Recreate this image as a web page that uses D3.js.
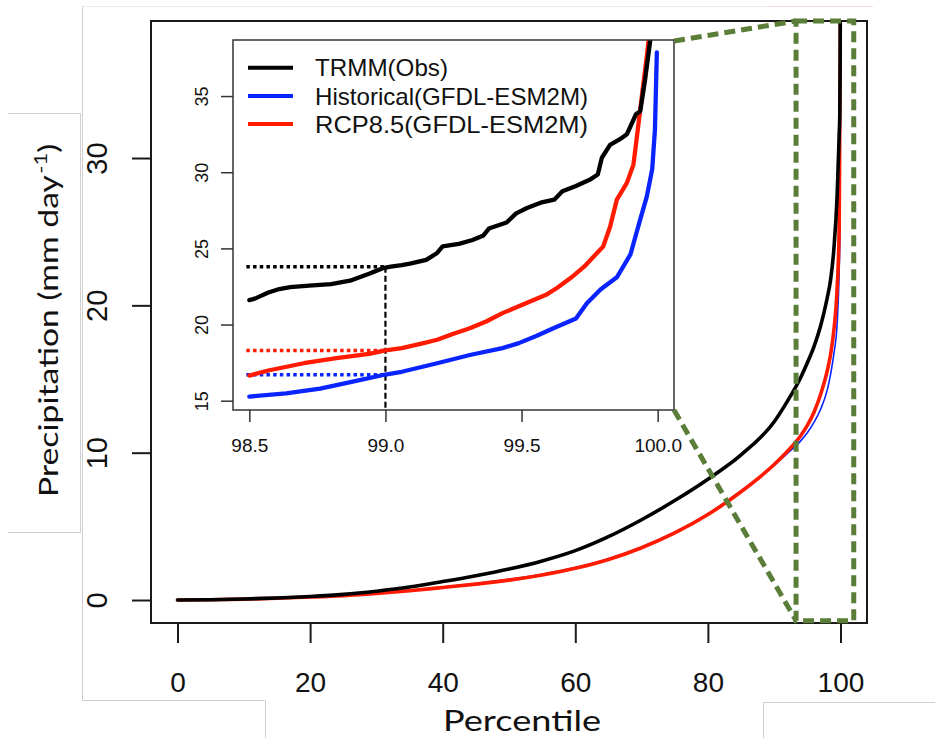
<!DOCTYPE html>
<html>
<head>
<meta charset="utf-8">
<script src="https://cdn.jsdelivr.net/npm/d3@7"></script>
<style>
  html, body { margin: 0; padding: 0; background: #fff; }
  svg { display: block; }
</style>
</head>
<body>
<svg id="chart" width="935" height="738"></svg>
<script>
// ---------------- DATA ----------------
// Main panel: percentile (x) vs precipitation (mm/day)
const mainPercentiles = [0, 5, 10, 15, 20, 25, 30, 35, 40, 45, 50, 55, 60, 65, 70, 75, 80, 85, 90, 92, 94, 95, 96, 97, 98, 98.5, 99, 99.5, 99.8, 99.9, 99.95, 100];
const trmmMain       = [0, 0.02, 0.07, 0.14, 0.24, 0.38, 0.6, 0.88, 1.25, 1.65, 2.1, 2.65, 3.35, 4.3, 5.45, 6.75, 8.2, 9.85, 12.1, 13.5, 15.1, 16.1, 17.2, 18.6, 20.5, 21.7, 23.8, 27.5, 31.5, 33.0, 36.5, 45];
const historicalMain = [0, 0.03, 0.07, 0.14, 0.22, 0.33, 0.48, 0.66, 0.88, 1.12, 1.4, 1.75, 2.2, 2.8, 3.6, 4.6, 5.85, 7.4, 9.15, 9.95, 10.8, 11.35, 12.05, 12.95, 14.25, 15.3, 16.7, 18.8, 22.3, 24.6, 28.4, 45];
const rcp85Main      = [0, 0.02, 0.06, 0.12, 0.2, 0.3, 0.45, 0.63, 0.85, 1.08, 1.35, 1.7, 2.15, 2.75, 3.55, 4.55, 5.8, 7.35, 9.2, 10.1, 11.15, 11.85, 12.75, 13.95, 15.55, 16.65, 18.3, 21.2, 25.1, 33.0, 37.0, 45];

// Inset panel (98.5 - 100 percentile)
const trmmInsetP = [98.50, 98.52, 98.57, 98.61, 98.65, 98.72, 98.80, 98.87, 98.94, 98.99, 99.02, 99.06, 99.09, 99.15, 99.19, 99.21, 99.27, 99.32, 99.36, 99.38, 99.445, 99.48, 99.52, 99.57, 99.62, 99.65, 99.70, 99.75, 99.78, 99.795, 99.825, 99.86, 99.887, 99.90, 99.92, 99.936, 99.954, 99.973, 99.98];
const trmmInsetV = [21.6, 21.7, 22.1, 22.33, 22.45, 22.55, 22.66, 22.88, 23.33, 23.7, 23.8, 23.9, 24.0, 24.25, 24.7, 25.13, 25.3, 25.55, 25.85, 26.3, 26.7, 27.3, 27.65, 28.0, 28.2, 28.75, 29.1, 29.5, 29.85, 30.95, 31.8, 32.15, 32.5, 33.0, 33.8, 34.0, 36.1, 38.7, 40.0];
const histInsetP = [98.50, 98.635, 98.76, 98.88, 99.00, 99.06, 99.19, 99.31, 99.43, 99.49, 99.556, 99.617, 99.70, 99.74, 99.79, 99.85, 99.90, 99.936, 99.96, 99.98, 99.99, 99.997];
const histInsetV = [15.27, 15.48, 15.8, 16.25, 16.72, 16.9, 17.46, 18.0, 18.45, 18.78, 19.26, 19.76, 20.4, 21.4, 22.3, 23.1, 24.6, 26.9, 28.4, 30.2, 32.8, 37.86];
const rcpInsetP  = [98.50, 98.574, 98.70, 98.82, 98.94, 99.00, 99.06, 99.14, 99.19, 99.25, 99.31, 99.37, 99.43, 99.49, 99.59, 99.63, 99.68, 99.73, 99.76, 99.80, 99.825, 99.85, 99.887, 99.911, 99.924, 99.942, 99.96, 99.967, 99.97];
const rcpInsetV  = [16.65, 17.0, 17.46, 17.8, 18.07, 18.3, 18.45, 18.78, 19.0, 19.4, 19.76, 20.2, 20.75, 21.2, 21.95, 22.4, 23.05, 23.8, 24.37, 25.13, 26.4, 28.2, 29.3, 30.5, 32.37, 35.0, 37.6, 38.7, 40.0];

// 99th percentile reference values (TRMM, RCP8.5, Historical)
const refPercentile = 99.0;
const refStart = 98.5;
const refValues = [23.8, 18.3, 16.7];

const seriesNames = ["TRMM(Obs)", "Historical(GFDL-ESM2M)", "RCP8.5(GFDL-ESM2M)"];
const seriesColors = ["#000000", "#0a24ff", "#ff1a00"];
const refColors = ["#000000", "#ff1a00", "#0a24ff"];

const mainXTicks = [0, 20, 40, 60, 80, 100];
const mainYTicks = [0, 10, 20, 30];
const insetXTicks = [98.5, 99.0, 99.5, 100.0];
const insetYTicks = [15, 20, 25, 30, 35];

// zoom annotation box in main data units
const zoomBoxP = [93.3, 102.0];
const zoomBoxV = [-1.4, 39.3];

// ---------------- CHART ----------------
const svg = d3.select("#chart");
const tickFont = "'Liberation Sans', Arial, Helvetica, sans-serif";
const titleFont = "Lato, 'Open Sans', sans-serif";

// faint background artefact lines (pasted-figure edges)
const faint = svg.append("g").attr("stroke", "#cfcfcf").attr("stroke-width", 1).attr("fill", "none");
faint.append("path").attr("d", "M82.5,6 V700.5 H265.5 V738");
faint.append("path").attr("d", "M82.5,6.5 H770").attr("stroke", "#ececec");
faint.append("path").attr("d", "M770,6.5 H873").attr("stroke", "#ffd9d9");
faint.append("path").attr("d", "M8,113.5 H80.5 V532.5 H8");
faint.append("path").attr("d", "M763.5,738 V702.5 H935");

// ---- main panel ----
const mx = d3.scaleLinear().domain([-4, 104]).range([151, 867]);
const my = d3.scaleLinear().domain([-1.56, 39.3]).range([623, 21]);

const defs = svg.append("defs");
defs.append("clipPath").attr("id", "mainClip").append("rect")
  .attr("x", mx.range()[0]).attr("y", my.range()[1])
  .attr("width", mx.range()[1] - mx.range()[0]).attr("height", my.range()[0] - my.range()[1]);

const mainLine = d3.line().x(d => mx(d[0])).y(d => my(d[1])).curve(d3.curveMonotoneX);
const mainG = svg.append("g").attr("clip-path", "url(#mainClip)");
const mainSeries = [
  { vals: historicalMain, color: seriesColors[1], w: 1.6 },
  { vals: rcp85Main, color: seriesColors[2], w: 3.6 },
  { vals: trmmMain, color: seriesColors[0], w: 3.6 }
];
mainSeries.forEach(s => {
  mainG.append("path")
    .datum(mainPercentiles.map((p, i) => [p, s.vals[i]]))
    .attr("fill", "none").attr("stroke", s.color).attr("stroke-width", s.w)
    .attr("stroke-linejoin", "round").attr("stroke-linecap", "round")
    .attr("d", mainLine);
});

// main box
svg.append("rect")
  .attr("x", mx.range()[0]).attr("y", my.range()[1])
  .attr("width", mx.range()[1] - mx.range()[0]).attr("height", my.range()[0] - my.range()[1])
  .attr("fill", "none").attr("stroke", "#1a1a1a").attr("stroke-width", 2);

// main x axis
const mxAxis = svg.append("g").attr("transform", `translate(0,${my.range()[0]})`)
  .call(d3.axisBottom(mx).tickValues(mainXTicks).tickSize(20).tickPadding(30).tickFormat(d3.format("d")));
mxAxis.select(".domain").remove();
mxAxis.selectAll("line").attr("stroke", "#1a1a1a").attr("stroke-width", 2);
mxAxis.selectAll("text").attr("font-family", tickFont).attr("font-size", 28).attr("fill", "#111")
  .attr("dy", null).attr("y", 69);

// main y axis
const myAxis = svg.append("g").attr("transform", `translate(${mx.range()[0]},0)`)
  .call(d3.axisLeft(my).tickValues(mainYTicks).tickSize(19).tickFormat(d3.format("d")));
myAxis.select(".domain").remove();
myAxis.selectAll("line").attr("stroke", "#1a1a1a").attr("stroke-width", 2);
myAxis.selectAll("text").attr("font-family", tickFont).attr("font-size", 29).attr("fill", "#111")
  .attr("text-anchor", "middle").attr("x", null).attr("dy", null)
  .attr("transform", "translate(-44,0) rotate(-90)").attr("y", 0);

// titles
svg.append("text")
  .attr("x", 522).attr("y", 731).attr("text-anchor", "middle")
  .attr("font-family", titleFont).attr("font-size", 28).attr("fill", "#111")
  .attr("textLength", 158).attr("lengthAdjust", "spacingAndGlyphs")
  .text("Percentile");

// y title: stretched along reading direction to match the reference span
const yTitleG = svg.append("g");
const yTitle = yTitleG.append("text")
  .attr("text-anchor", "start")
  .attr("font-family", titleFont).attr("font-size", 26).attr("fill", "#111");
yTitle.append("tspan").text("Precipitation (mm day");
yTitle.append("tspan").attr("font-size", 17).attr("dy", -11).attr("dx", 1).text("-1");
yTitle.append("tspan").attr("dy", 11).text(")");
const yTitleLen = yTitle.node().getComputedTextLength();
const yTitleTarget = 352;
yTitleG.attr("transform", `translate(58,497) rotate(-90) scale(${yTitleTarget / yTitleLen},1)`);

// ---- inset panel ----
const ix = d3.scaleLinear().domain([98.44, 100.06]).range([233, 674]);
const iy = d3.scaleLinear().domain([14.39, 38.68]).range([410, 40]);

svg.append("rect")
  .attr("x", ix.range()[0]).attr("y", iy.range()[1])
  .attr("width", ix.range()[1] - ix.range()[0]).attr("height", iy.range()[0] - iy.range()[1])
  .attr("fill", "#fff").attr("stroke", "none");

defs.append("clipPath").attr("id", "insetClip").append("rect")
  .attr("x", ix.range()[0]).attr("y", iy.range()[1])
  .attr("width", ix.range()[1] - ix.range()[0]).attr("height", iy.range()[0] - iy.range()[1]);

const insetG = svg.append("g").attr("clip-path", "url(#insetClip)");

// reference lines
refValues.forEach((v, i) => {
  insetG.append("line")
    .attr("x1", ix(refStart) - 3).attr("x2", ix(refPercentile))
    .attr("y1", iy(v)).attr("y2", iy(v))
    .attr("stroke", refColors[i]).attr("stroke-width", 3.5)
    .attr("stroke-dasharray", "3.5,3.2");
});
insetG.append("line")
  .attr("x1", ix(refPercentile)).attr("x2", ix(refPercentile))
  .attr("y1", iy(refValues[0])).attr("y2", iy.range()[0])
  .attr("stroke", "#000").attr("stroke-width", 2.2)
  .attr("stroke-dasharray", "6,3");

const insetLine = d3.line().x(d => ix(d[0])).y(d => iy(d[1]));
const insetSeries = [
  { p: histInsetP, v: histInsetV, color: seriesColors[1] },
  { p: rcpInsetP, v: rcpInsetV, color: seriesColors[2] },
  { p: trmmInsetP, v: trmmInsetV, color: seriesColors[0] }
];
insetSeries.forEach(s => {
  insetG.append("path")
    .datum(s.p.map((p, i) => [p, s.v[i]]))
    .attr("fill", "none").attr("stroke", s.color).attr("stroke-width", 4.3)
    .attr("stroke-linejoin", "round").attr("stroke-linecap", "round")
    .attr("d", insetLine);
});

// inset box
svg.append("rect")
  .attr("x", ix.range()[0]).attr("y", iy.range()[1])
  .attr("width", ix.range()[1] - ix.range()[0]).attr("height", iy.range()[0] - iy.range()[1])
  .attr("fill", "none").attr("stroke", "#333").attr("stroke-width", 1.5);

// inset axes
const ixAxis = svg.append("g").attr("transform", `translate(0,${iy.range()[0]})`)
  .call(d3.axisBottom(ix).tickValues(insetXTicks).tickSize(12).tickFormat(d3.format(".1f")));
ixAxis.select(".domain").remove();
ixAxis.selectAll("line").attr("stroke", "#333").attr("stroke-width", 1.5);
ixAxis.selectAll("text").attr("font-family", tickFont).attr("font-size", 19).attr("fill", "#111")
  .attr("dy", null).attr("y", 42);

const iyAxis = svg.append("g").attr("transform", `translate(${ix.range()[0]},0)`)
  .call(d3.axisLeft(iy).tickValues(insetYTicks).tickSize(12).tickFormat(d3.format("d")));
iyAxis.select(".domain").remove();
iyAxis.selectAll("line").attr("stroke", "#333").attr("stroke-width", 1.5);
iyAxis.selectAll("text").attr("font-family", tickFont).attr("font-size", 18).attr("fill", "#111")
  .attr("text-anchor", "middle").attr("x", null).attr("dy", null)
  .attr("transform", "translate(-25,0) rotate(-90)").attr("y", 0);

// legend
const legend = svg.append("g");
seriesNames.forEach((name, i) => {
  const y = 67.7 + i * 28.2;
  legend.append("line").attr("x1", 248).attr("x2", 293).attr("y1", y).attr("y2", y)
    .attr("stroke", seriesColors[i]).attr("stroke-width", 4);
  legend.append("text").attr("x", 315).attr("y", y + 8.6)
    .attr("font-family", tickFont).attr("font-size", 24).attr("fill", "#111")
    .attr("textLength", i === 0 ? 133 : 273).attr("lengthAdjust", "spacingAndGlyphs")
    .text(name);
});

// ---- zoom annotation (green dashed) ----
const green = "#5a7d38";
const zg = svg.append("g").attr("fill", "none").attr("stroke", green).attr("stroke-width", 5)
  .attr("stroke-dasharray", "11,6");
zg.append("rect")
  .attr("x", mx(zoomBoxP[0])).attr("y", my(zoomBoxV[1]))
  .attr("width", mx(zoomBoxP[1]) - mx(zoomBoxP[0]))
  .attr("height", my(zoomBoxV[0]) - my(zoomBoxV[1]));
zg.append("line")
  .attr("x1", ix.range()[1]).attr("y1", iy.range()[1] + 1)
  .attr("x2", mx(zoomBoxP[0])).attr("y2", my(zoomBoxV[1]));
zg.append("line")
  .attr("x1", ix.range()[1]).attr("y1", iy.range()[0])
  .attr("x2", mx(zoomBoxP[0])).attr("y2", my(zoomBoxV[0]));
</script>
</body>
</html>
